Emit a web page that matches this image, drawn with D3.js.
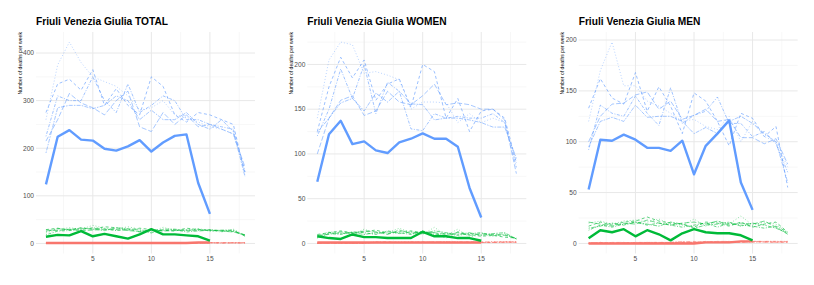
<!DOCTYPE html>
<html>
<head>
<meta charset="utf-8">
<script src="https://cdn.jsdelivr.net/npm/d3@7"></script>
<style>
  body { margin: 0; background: #fff; }
  text { font-family: "Liberation Sans", Arial, sans-serif; }
</style>
</head>
<body>
<script>
// weeks of the year and the years drawn as thin lines
const weeks = [1, 2, 3, 4, 5, 6, 7, 8, 9, 10, 11, 12, 13, 14, 15, 16, 17, 18];
const pastYears = ["2015", "2016", "2017", "2018", "2019"];
const panelNames = ["TOTAL", "WOMEN", "MEN"];

// ---- TOTAL ----
const totalBlue2020 = [124, 224, 238, 218, 216, 199, 195, 204, 217, 193, 212, 226, 229, 127, 62];
const totalBluePast = [
  [260, 375, 423, 380, 350, 340, 330, 310, 280, 285, 300, 270, 265, 255, 245, 240, 230, 150],
  [275, 335, 345, 322, 365, 290, 325, 290, 270, 350, 330, 270, 255, 275, 270, 260, 250, 145],
  [225, 310, 300, 300, 350, 300, 275, 335, 275, 290, 310, 300, 260, 260, 250, 245, 240, 150],
  [215, 260, 315, 295, 285, 270, 300, 320, 245, 235, 275, 250, 270, 245, 250, 240, 230, 160],
  [190, 285, 290, 290, 283, 290, 310, 300, 260, 280, 260, 260, 275, 250, 240, 260, 235, 140]
];
const totalGreen2020 = [14, 18, 17, 26, 15, 20, 15, 10, 19, 30, 19, 19, 17, 15, 6];
const totalGreenPast = [
  [22, 30, 33, 30, 38, 32, 30, 35, 30, 24, 34, 27, 29, 31, 27, 24, 30, 17],
  [29, 32, 28, 33, 30, 35, 33, 28, 32, 29, 28, 26, 32, 29, 28, 26, 25, 18],
  [18, 26, 27, 29, 33, 30, 27, 30, 24, 27, 27, 29, 24, 27, 29, 27, 27, 16],
  [28, 27, 30, 27, 28, 30, 29, 27, 25, 28, 26, 27, 28, 26, 28, 26, 24, 18],
  [25, 31, 29, 32, 30, 27, 33, 31, 28, 22, 30, 30, 27, 30, 26, 28, 28, 15]
];
const totalRed2020 = [1, 1, 1, 1, 1, 1, 1, 1, 1, 1, 1, 1, 1, 2, 2];
const totalRedPast = [
  [1, 1, 2, 1, 1, 2, 1, 2, 1, 1, 2, 1, 1, 2, 1, 1, 2, 1],
  [0, 1, 1, 2, 1, 1, 2, 1, 2, 1, 1, 2, 1, 1, 2, 1, 1, 1],
  [1, 0, 1, 1, 2, 1, 1, 1, 1, 2, 1, 1, 2, 1, 1, 2, 1, 1],
  [0, 1, 0, 1, 1, 1, 0, 1, 1, 1, 2, 1, 1, 1, 2, 1, 1, 2],
  [1, 1, 1, 0, 1, 1, 1, 0, 1, 1, 1, 1, 2, 2, 1, 1, 2, 1]
];

// ---- WOMEN ----
const womenBlue2020 = [69, 122, 137, 111, 114, 104, 101, 113, 117, 123, 117, 117, 108, 62, 29];
const womenBluePast = [
  [140, 205, 225, 222, 190, 192, 188, 183, 150, 158, 158, 157, 135, 145, 135, 140, 135, 90],
  [125, 175, 208, 185, 205, 160, 178, 184, 152, 200, 192, 140, 162, 125, 148, 150, 140, 90],
  [120, 150, 195, 162, 200, 145, 180, 170, 128, 126, 145, 140, 142, 140, 140, 145, 135, 85],
  [100, 140, 160, 165, 143, 148, 170, 158, 155, 165, 178, 155, 157, 155, 150, 150, 138, 78],
  [124, 140, 157, 162, 148, 168, 158, 170, 156, 155, 138, 140, 140, 138, 135, 130, 130, 95]
];
const womenGreen2020 = [8, 6, 5, 10, 7, 7, 6, 6, 6, 13, 8, 8, 6, 6, 3];
const womenGreenPast = [
  [8, 13, 12, 10, 16, 11, 12, 17, 12, 10, 18, 9, 16, 7, 10, 8, 11, 5],
  [10, 12, 14, 12, 13, 15, 11, 13, 14, 12, 12, 6, 13, 10, 8, 9, 7, 6],
  [6, 11, 10, 13, 12, 10, 14, 12, 10, 14, 10, 11, 9, 11, 12, 9, 10, 5],
  [9, 10, 13, 11, 14, 13, 10, 15, 11, 13, 12, 10, 12, 9, 11, 10, 9, 6],
  [7, 12, 11, 12, 10, 12, 13, 11, 13, 11, 14, 12, 10, 12, 9, 11, 12, 5]
];
const womenRed2020 = [1, 1, 1, 1, 1, 1, 1, 1, 1, 1, 1, 1, 1, 1, 1];
const womenRedPast = [
  [0, 0, 1, 0, 0, 1, 1, 2, 1, 1, 1, 2, 1, 1, 1, 2, 2, 2],
  [0, 1, 0, 0, 1, 1, 2, 1, 1, 2, 1, 1, 1, 2, 1, 1, 2, 1],
  [1, 0, 0, 1, 0, 2, 1, 1, 2, 1, 1, 1, 2, 1, 1, 1, 1, 2],
  [0, 0, 1, 0, 1, 1, 1, 1, 1, 1, 2, 1, 1, 1, 2, 1, 2, 1],
  [0, 1, 0, 0, 0, 1, 1, 1, 1, 1, 1, 2, 1, 1, 1, 2, 1, 2]
];

// ---- MEN ----
const menBlue2020 = [53, 102, 101, 107, 102, 94, 94, 91, 101, 68, 96, 108, 121, 60, 33];
const menBluePast = [
  [120, 170, 198, 155, 155, 140, 135, 128, 120, 122, 115, 112, 125, 100, 120, 105, 100, 75],
  [133, 162, 143, 137, 168, 130, 154, 135, 108, 148, 140, 120, 96, 128, 123, 105, 115, 55],
  [92, 136, 128, 125, 145, 128, 116, 153, 118, 126, 130, 144, 118, 118, 105, 110, 98, 70],
  [100, 125, 137, 138, 146, 149, 132, 140, 122, 126, 132, 120, 122, 104, 104, 98, 103, 78],
  [95, 120, 124, 120, 136, 124, 125, 125, 120, 108, 114, 108, 120, 125, 118, 108, 100, 60]
];
const menGreen2020 = [5, 13, 11, 14, 7, 13, 9, 3, 10, 14, 11, 10, 10, 8, 3];
const menGreenPast = [
  [20, 22, 19, 22, 23, 21, 24, 19, 18, 24, 17, 22, 19, 27, 18, 21, 19, 10],
  [17, 21, 18, 21, 22, 26, 22, 20, 19, 16, 21, 20, 17, 21, 16, 19, 21, 11],
  [13, 18, 16, 19, 21, 18, 20, 18, 16, 18, 20, 16, 20, 18, 17, 15, 17, 11],
  [21, 19, 17, 20, 19, 23, 20, 18, 20, 21, 19, 22, 18, 20, 19, 22, 16, 9],
  [15, 17, 20, 18, 21, 19, 17, 21, 19, 15, 18, 19, 21, 17, 20, 18, 15, 10]
];
const menRed2020 = [0, 0, 0, 0, 0, 0, 0, 0, 0, 0, 1, 1, 1, 2, 2];
const menRedPast = [
  [0, 0, 1, 0, 1, 1, 0, 1, 1, 1, 1, 2, 1, 2, 2, 1, 2, 2],
  [0, 1, 0, 1, 0, 1, 1, 1, 1, 2, 1, 1, 2, 1, 2, 2, 1, 1],
  [1, 0, 0, 0, 1, 0, 1, 1, 1, 1, 2, 1, 1, 2, 1, 2, 2, 2],
  [0, 0, 1, 1, 0, 1, 1, 0, 1, 1, 1, 2, 2, 1, 2, 1, 1, 2],
  [0, 1, 0, 0, 1, 1, 0, 1, 2, 1, 1, 1, 1, 2, 2, 2, 2, 1]
];

const panelData = [
  { blue: totalBlue2020, bluePast: totalBluePast, green: totalGreen2020, greenPast: totalGreenPast, red: totalRed2020, redPast: totalRedPast },
  { blue: womenBlue2020, bluePast: womenBluePast, green: womenGreen2020, greenPast: womenGreenPast, red: womenRed2020, redPast: womenRedPast },
  { blue: menBlue2020, bluePast: menBluePast, green: menGreen2020, greenPast: menGreenPast, red: menRed2020, redPast: menRedPast }
];

//colors like ggplot default hues
const colors = { red: "#F8766D", green: "#00BA38", blue: "#619CFF" };
//one line type per past year
const dashes = ["1,2", "3,2.5", "1,1.5,3,1.5", "5,2", "1.5,1.2,4,1.2"];
const pastAlpha = [0.55, 0.8, 0.75, 0.7, 0.7];

const width = 814, height = 285;
const facetW = width / 3;

const svg = d3.select("body").append("svg")
  .attr("width", width)
  .attr("height", height);

panelData.forEach((p, i) => {
  const g = svg.append("g").attr("transform", `translate(${i * facetW},0)`);

  const allVals = [].concat(p.blue, p.green, p.red, ...p.bluePast, ...p.greenPast, ...p.redPast);
  const yMax = d3.max(allVals);

  const x = d3.scaleLinear()
    .domain([1 - 0.85, 18 + 0.85])
    .range([36, 255]);
  const y = d3.scaleLinear()
    .domain([-0.05 * yMax, yMax * 1.05])
    .range([253.5, 32]);

  // grid
  const yTicks = y.ticks(5);
  const yStep = yTicks[1] - yTicks[0];
  const yMinor = [yTicks[0] - yStep / 2].concat(yTicks.map(t => t + yStep / 2))
    .filter(t => t > y.domain()[0] && t < y.domain()[1]);
  const xTicks = x.ticks(3);
  const xMinor = [2.5, 7.5, 12.5, 17.5];

  const grid = g.append("g");
  grid.selectAll(".ymin").data(yMinor).join("line")
    .attr("x1", 36).attr("x2", 255)
    .attr("y1", d => y(d)).attr("y2", d => y(d))
    .attr("stroke", "#f2f2f2").attr("stroke-width", 0.6);
  grid.selectAll(".xmin").data(xMinor).join("line")
    .attr("y1", 32).attr("y2", 253.5)
    .attr("x1", d => x(d)).attr("x2", d => x(d))
    .attr("stroke", "#f2f2f2").attr("stroke-width", 0.6);
  grid.selectAll(".ymaj").data(yTicks).join("line")
    .attr("x1", 36).attr("x2", 255)
    .attr("y1", d => y(d)).attr("y2", d => y(d))
    .attr("stroke", "#e8e8e8").attr("stroke-width", 1);
  grid.selectAll(".xmaj").data(xTicks).join("line")
    .attr("y1", 32).attr("y2", 253.5)
    .attr("x1", d => x(d)).attr("x2", d => x(d))
    .attr("stroke", "#e8e8e8").attr("stroke-width", 1);

  // tick labels
  g.append("g").selectAll("text").data(yTicks).join("text")
    .attr("x", 34).attr("y", d => y(d)).attr("dy", "0.35em")
    .attr("text-anchor", "end")
    .attr("font-size", 6.6).attr("fill", "#4d4d4d")
    .text(d => d);
  g.append("g").selectAll("text").data(xTicks).join("text")
    .attr("x", d => x(d)).attr("y", 260.5)
    .attr("text-anchor", "middle")
    .attr("font-size", 6.6).attr("fill", "#4d4d4d")
    .text(d => d);

  // titles
  g.append("text")
    .attr("x", 36).attr("y", 25)
    .attr("font-size", 10.2).attr("font-weight", "bold")
    .text("Friuli Venezia Giulia " + panelNames[i]);
  g.append("text")
    .attr("transform", "translate(21.8,32) rotate(-90)")
    .attr("text-anchor", "end")
    .attr("font-size", 5.1)
    .text("Number of deaths per week");

  const line = d3.line()
    .x((d, j) => x(weeks[j]))
    .y(d => y(d));

  const lines = g.append("g").attr("fill", "none");

  // past years, thin and patterned
  ["red", "green", "blue"].forEach(c => {
    p[c + "Past"].forEach((vals, k) => {
      lines.append("path")
        .datum(vals)
        .attr("d", line)
        .attr("stroke", colors[c])
        .attr("stroke-opacity", pastAlpha[k])
        .attr("stroke-width", 0.8)
        .attr("stroke-dasharray", dashes[k])
        .append("title").text(pastYears[k]);
    });
  });

  // 2020, thick solid
  ["red", "green", "blue"].forEach(c => {
    lines.append("path")
      .datum(p[c])
      .attr("d", line)
      .attr("stroke", colors[c])
      .attr("stroke-width", 2.4)
      .attr("stroke-linejoin", "round");
  });
});
</script>
</body>
</html>
